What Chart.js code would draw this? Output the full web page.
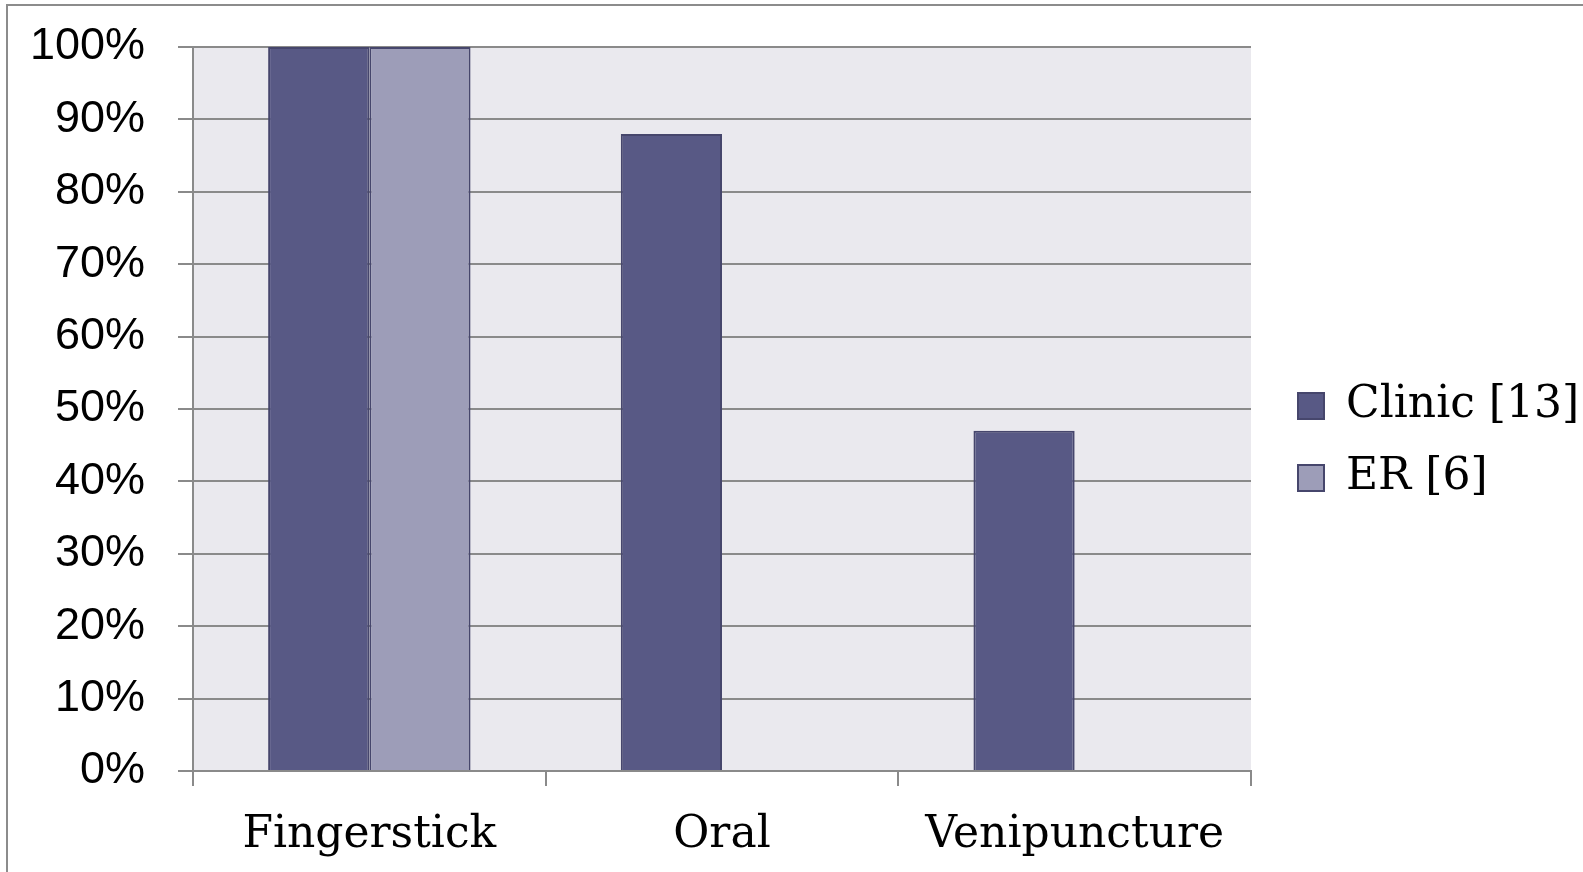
<!DOCTYPE html>
<html>
<head>
<meta charset="utf-8">
<title>Testing method by setting</title>
<script src="https://cdn.jsdelivr.net/npm/chart.js@4.4.1/dist/chart.umd.min.js"></script>
<style>
  html, body { margin: 0; padding: 0; background: #fff; overflow: hidden; }
  #wrap { position: relative; width: 1583px; height: 872px; }
  #frame {
    position: absolute; left: 6px; top: 4px; width: 1600px; height: 900px;
    border-left: 2px solid #8c8c8c; border-top: 2px solid #8c8c8c;
    pointer-events: none;
  }
  #chart { position: absolute; left: 0; top: 0; }
</style>
</head>
<body>
<div id="wrap">
  <canvas id="chart" width="1583" height="872"></canvas>
  <div id="frame"></div>
</div>
<script>
// categories and values (percent)
const methods = ["Fingerstick", "Oral", "Venipuncture"];
const clinicValues = [100, 88, 47];
const erValues = [100, null, null];
const seriesNames = ["Clinic [13]", "ER [6]"];
const yTicks = [0, 10, 20, 30, 40, 50, 60, 70, 80, 90, 100];

const gridGray = "#8a8a8a";
const labelFont = "'DejaVu Serif', serif";

// light lavender fill behind the plot area
const plotBackground = {
  id: "plotBackground",
  beforeDraw(chart) {
    const { ctx, chartArea } = chart;
    ctx.save();
    ctx.fillStyle = "#eae9ee";
    ctx.fillRect(chartArea.left, chartArea.top, chartArea.right - chartArea.left, chartArea.bottom - chartArea.top);
    ctx.restore();
  }
};

new Chart(document.getElementById("chart"), {
  type: "bar",
  data: {
    labels: methods,
    datasets: [
      {
        label: seriesNames[0],
        data: clinicValues,
        backgroundColor: "#585985",
        borderColor: "#46466c",
        borderWidth: 2
      },
      {
        label: seriesNames[1],
        data: erValues,
        backgroundColor: "#9d9db8",
        borderColor: "#46466c",
        borderWidth: 2
      }
    ]
  },
  options: {
    responsive: false,
    animation: false,
    layout: { padding: { top: 47, left: 0, right: 0, bottom: 0 } },
    datasets: {
      bar: { categoryPercentage: 0.574, barPercentage: 1.0 }
    },
    plugins: {
      tooltip: { enabled: false },
      legend: {
        position: "right",
        align: "start",
        maxWidth: 313,
        // blank title used only as a spacer above the legend items
        title: {
          display: true,
          text: "",
          font: { size: 10, lineHeight: 1 },
          padding: { top: 0, bottom: 299 }
        },
        labels: {
          boxWidth: 26,
          boxHeight: 26,
          padding: 28,
          color: "#000",
          font: { family: labelFont, size: 44, lineHeight: 1.0 }
        }
      }
    },
    scales: {
      x: {
        grid: {
          offset: true,
          drawOnChartArea: false,
          drawTicks: true,
          tickLength: 15,
          color: gridGray,
          lineWidth: 2
        },
        border: { display: true, color: gridGray, width: 2 },
        ticks: {
          color: "#000",
          padding: 23,
          font: { family: labelFont, size: 44 }
        },
        afterFit(scale) { scale.height = 101; }
      },
      y: {
        min: 0,
        max: 100,
        afterBuildTicks(scale) { scale.ticks = yTicks.map(v => ({ value: v })); },
        grid: {
          drawTicks: true,
          tickLength: 15,
          color: gridGray,
          lineWidth: 2
        },
        border: { display: true, color: gridGray, width: 2 },
        ticks: {
          color: "#000",
          padding: 33,
          font: { family: "'Liberation Sans', Arial, sans-serif", size: 45 },
          callback: v => v + "%"
        },
        afterFit(scale) {
          scale.width = 193;
          scale.paddingTop = 0;
          scale.paddingBottom = 0;
        }
      },
      // empty strip that keeps the legend clear of the plot
      gap: {
        type: "linear",
        position: "right",
        grid: { display: false },
        border: { display: false },
        ticks: { display: false },
        afterFit(scale) {
          scale.width = 19;
          scale.paddingTop = 0;
          scale.paddingBottom = 0;
        }
      }
    }
  },
  plugins: [plotBackground]
});
</script>
</body>
</html>
